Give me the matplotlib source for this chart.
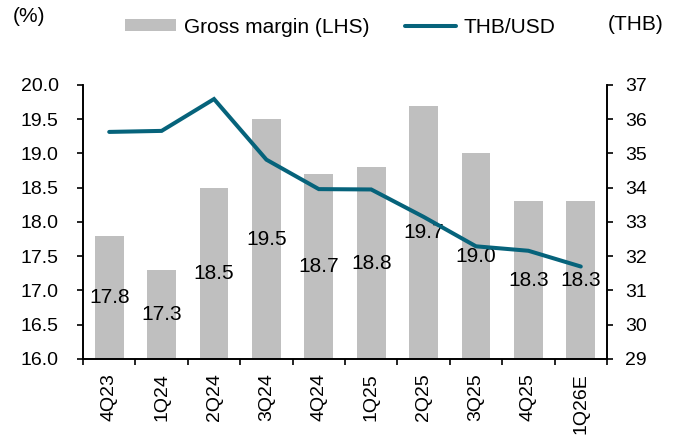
import matplotlib.pyplot as plt
import numpy as np

plt.rcParams['font.family'] = ['Liberation Sans', 'DejaVu Sans']

quarters = ["4Q23", "1Q24", "2Q24", "3Q24", "4Q24", "1Q25", "2Q25", "3Q25", "4Q25", "1Q26E"]
gross_margin = [17.8, 17.3, 18.5, 19.5, 18.7, 18.8, 19.7, 19.0, 18.3, 18.3]
thb_usd = [35.63, 35.66, 36.59, 34.82, 33.96, 33.95, 33.15, 32.29, 32.16, 31.70]

bar_color = "#BFBFBF"
line_color = "#06637B"

fig = plt.figure(figsize=(6.81, 4.37), dpi=100)
ax = fig.add_axes([0.1219, 0.1785, 0.7694, 0.6270])
ax2 = ax.twinx()

x = np.arange(len(quarters))
bars = ax.bar(x, gross_margin, width=0.55, color=bar_color, label="Gross margin (LHS)", zorder=2)
ax.bar_label(bars, labels=[f"{v:.1f}" for v in gross_margin], label_type="center", fontsize=15, color="black")

line, = ax2.plot(x, thb_usd, color=line_color, linewidth=2.9, solid_capstyle="round",
                 solid_joinstyle="miter", label="THB/USD")

ax.set_ylim(16.0, 20.0)
ax.set_yticks(np.arange(16.0, 20.01, 0.5))
ax.set_yticklabels([f"{v:.1f}" for v in np.arange(16.0, 20.01, 0.5)])
ax2.set_ylim(29, 37)
ax2.set_yticks(range(29, 38))
ax.set_xlim(-0.5, len(quarters) - 0.5)

ax.set_xticks(x)
ax.set_xticklabels(quarters, rotation=90)
ax.set_xticks(np.arange(-0.5, len(quarters)), minor=True)
ax.tick_params(axis="x", which="major", length=0, pad=10, labelsize=14)
ax.tick_params(axis="x", which="minor", length=4.5, width=1.2, direction="out")
ax.tick_params(axis="y", length=4.5, width=1.2, direction="out", labelsize=14, pad=13)
ax2.tick_params(axis="y", length=4, width=1.2, direction="out", labelsize=14, pad=9)

for a in (ax, ax2):
    a.spines["top"].set_visible(False)
    for s in ("left", "right", "bottom"):
        a.spines[s].set_linewidth(1.2)

fig.text(0.019, 0.962, "(%)", fontsize=15, va="center")
fig.text(0.893, 0.945, "(THB)", fontsize=15, va="center")

fig.legend(handles=[bars, line], loc="center", bbox_to_anchor=(0.50, 0.938), ncol=2,
           frameon=False, fontsize=15, handlelength=2.45, handleheight=0.5,
           handletextpad=0.38, columnspacing=1.68)

fig.savefig("out.png", dpi=100)
